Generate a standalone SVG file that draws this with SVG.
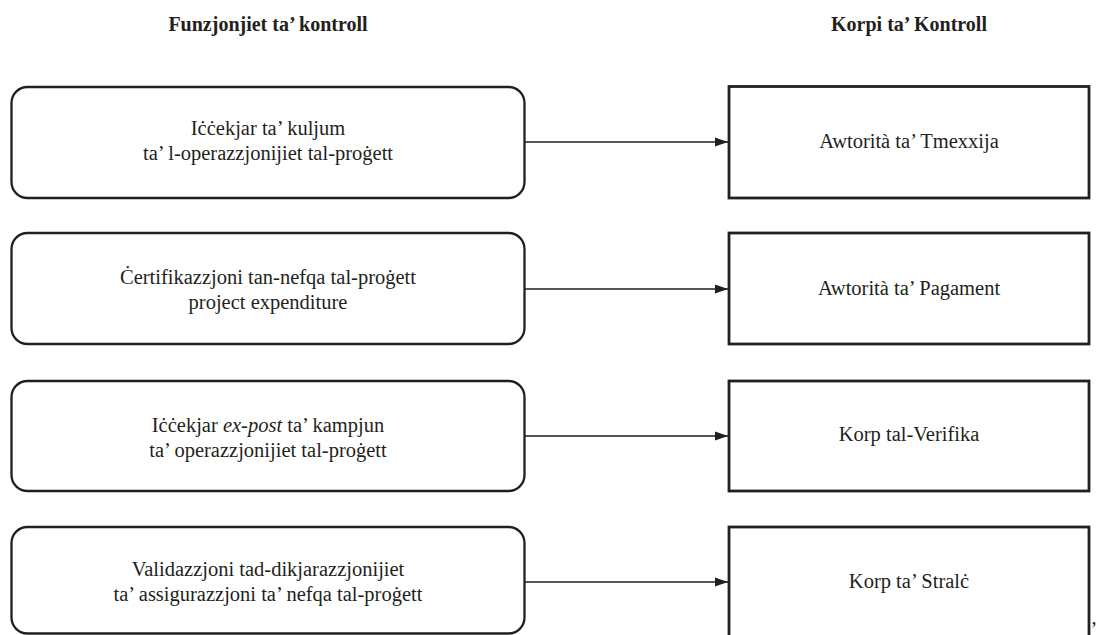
<svg xmlns="http://www.w3.org/2000/svg" width="1097" height="635" viewBox="0 0 1097 635">
  <style>
    .bg { fill: #ffffff; }
    .fn { fill: #ffffff; stroke: #231f20; stroke-width: 2.3; }
    .bd { fill: #ffffff; stroke: #231f20; stroke-width: 2.8; }
    .t { font-family: "Liberation Serif", "Times New Roman", serif; font-size: 20.5px; fill: #231f20; text-anchor: middle; }
    .h { font-family: "Liberation Serif", "Times New Roman", serif; font-size: 20px; font-weight: bold; fill: #231f20; text-anchor: middle; }
    .c { stroke: #231f20; stroke-width: 1.3; fill: none; }
  </style>
  <defs>
    <marker id="ah" markerWidth="14" markerHeight="10" refX="13" refY="5" orient="auto" markerUnits="userSpaceOnUse">
      <path d="M0,0.6 L13,5 L0,9.4 Z" fill="#231f20"/>
    </marker>
  </defs>
  <rect class="bg" x="0" y="0" width="1097" height="635"/>

  <g id="headings">
    <text class="h" x="268" y="31">Funzjonjiet ta’ kontroll</text>
    <text class="h" x="909" y="31">Korpi ta’ Kontroll</text>
  </g>

  <g id="connectors">
    <line class="c" x1="525" y1="142" x2="728" y2="142" marker-end="url(#ah)"/>
    <line class="c" x1="525" y1="289" x2="728" y2="289" marker-end="url(#ah)"/>
    <line class="c" x1="525" y1="436" x2="728" y2="436" marker-end="url(#ah)"/>
    <line class="c" x1="525" y1="582" x2="728" y2="582" marker-end="url(#ah)"/>
  </g>

  <g id="f1">
    <rect class="fn" x="11.5" y="87" width="513" height="111" rx="16"/>
    <text class="t" x="268" y="135">Iċċekjar ta’ kuljum</text>
    <text class="t" x="268" y="160">ta’ l-operazzjonijiet tal-proġett</text>
  </g>
  <g id="f2">
    <rect class="fn" x="11.5" y="233" width="513" height="111" rx="16"/>
    <text class="t" x="268" y="284">Ċertifikazzjoni tan-nefqa tal-proġett</text>
    <text class="t" x="268" y="309">project expenditure</text>
  </g>
  <g id="f3">
    <rect class="fn" x="11.5" y="381" width="513" height="110" rx="16"/>
    <text class="t" x="268" y="432">Iċċekjar <tspan font-style="italic">ex-post</tspan> ta’ kampjun</text>
    <text class="t" x="268" y="457">ta’ operazzjonijiet tal-proġett</text>
  </g>
  <g id="f4">
    <rect class="fn" x="11.5" y="527" width="513" height="106.5" rx="16"/>
    <text class="t" x="268" y="576">Validazzjoni tad-dikjarazzjonijiet</text>
    <text class="t" x="268" y="601">ta’ assigurazzjoni ta’ nefqa tal-proġett</text>
  </g>

  <g id="b1">
    <rect class="bd" x="729" y="86.5" width="360" height="111.5"/>
    <text class="t" x="909" y="148">Awtorità ta’ Tmexxija</text>
  </g>
  <g id="b2">
    <rect class="bd" x="729" y="233" width="360" height="111"/>
    <text class="t" x="909" y="295">Awtorità ta’ Pagament</text>
  </g>
  <g id="b3">
    <rect class="bd" x="729" y="381" width="360" height="110"/>
    <text class="t" x="909" y="441">Korp tal-Verifika</text>
  </g>
  <g id="b4">
    <rect class="bd" x="729" y="527" width="360" height="120"/>
    <text class="t" x="909" y="588">Korp ta’ Stralċ</text>
  </g>

  <text class="t" x="1094" y="624">,</text>
</svg>
